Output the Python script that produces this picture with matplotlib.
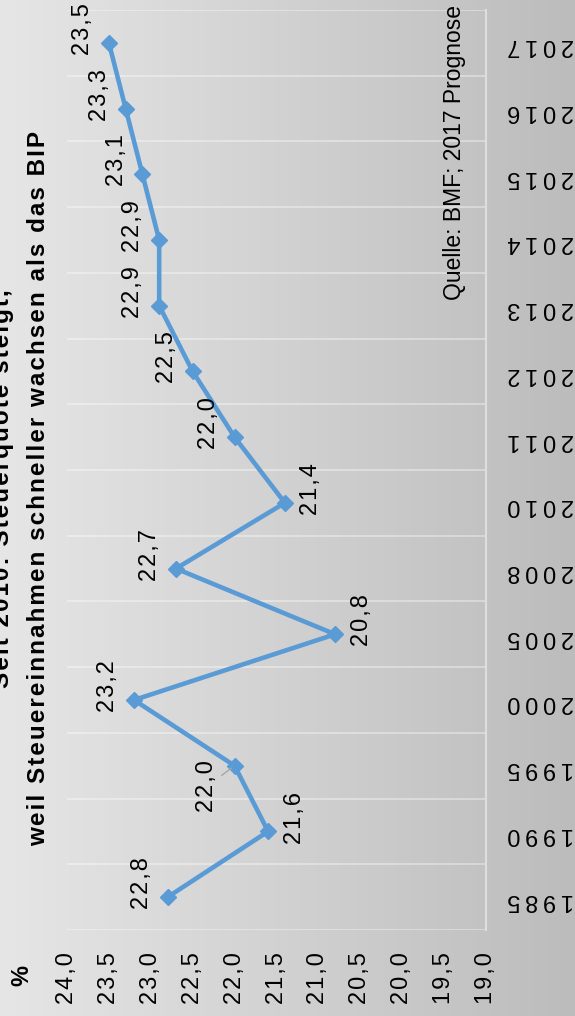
import numpy as np
import matplotlib
matplotlib.use("Agg")
import matplotlib.pyplot as plt

plt.rcParams['font.family'] = ['Liberation Sans', 'DejaVu Sans']

# Steuerquote in % (BMF; 2017 Prognose)
years = ['1985', '1990', '1995', '2000', '2005', '2008', '2010',
         '2011', '2012', '2013', '2014', '2015', '2016', '2017']
quote = [22.8, 21.6, 22.0, 23.2, 20.8, 22.7, 21.4,
         22.0, 22.5, 22.9, 22.9, 23.1, 23.3, 23.5]
# where the data label sits: l = above the line, r = below, m = moved with leader line
label_side = ['l', 'r', 'm', 'l', 'r', 'l', 'r',
              'l', 'l', 'l', 'l', 'l', 'l', 'l']
value_ticks = [24.0, 23.5, 23.0, 22.5, 22.0, 21.5, 21.0, 20.5, 20.0, 19.5, 19.0]

title_1 = 'Seit 2010: Steuerquote steigt,'
title_2 = 'weil Steuereinnahmen schneller wachsen als das BIP'
source = 'Quelle: BMF; 2017 Prognose'

HAIR = '\u200a'
THIN = '\u2009'


def spaced(s, sp=HAIR):
    # the original uses wide letter spacing
    return sp.join(s)


def de(v):
    return f'{v:.1f}'.replace('.', ',')


W, H = 575, 1016
fig = plt.figure(figsize=(W / 100, H / 100), dpi=100)

# grey gradient background
bg = fig.add_axes([0, 0, 1, 1], zorder=-10)
grad = np.linspace(0, 1, 256).reshape(1, -1)
cmap = matplotlib.colors.LinearSegmentedColormap.from_list('bg', ['#e6e6e6', '#bcbcbc'])
bg.imshow(grad, aspect='auto', cmap=cmap, extent=[0, 1, 0, 1])
bg.axis('off')

# chart is drawn turned by 90 degrees
ax = fig.add_axes([67 / W, 86 / H, (486 - 67) / W, 920 / H])
ax.set_facecolor('none')
pos = np.arange(len(years))
ax.plot(quote, pos, color='#5b9bd5', lw=3.3, marker='D', ms=8.5, zorder=3)

ax.set_xlim(24.0, 19.0)
ax.set_ylim(-0.5, len(years) - 0.5)

ax.set_xticks(value_ticks, [spaced(de(v)) for v in value_ticks],
              rotation=90, fontsize=17)
ax.tick_params(axis='x', length=0, pad=16)

ax.yaxis.tick_right()
ax.set_yticks(pos, [spaced(y, THIN) for y in years], rotation=180, fontsize=17)
ax.tick_params(axis='y', length=0, pad=15, which='both')
ax.set_yticks(np.arange(-0.5, len(years)), minor=True)
ax.grid(which='minor', axis='y', color='white', alpha=0.4, lw=1.3)

for s in ['top', 'left', 'bottom']:
    ax.spines[s].set_visible(False)
ax.spines['right'].set_color('#dedede')
ax.spines['right'].set_linewidth(1.5)

for v, p, side in zip(quote, pos, label_side):
    txt = spaced(de(v))
    if side == 'l':
        ax.annotate(txt, (v, p), xytext=(-18.5, 10), textcoords='offset points',
                    rotation=90, ha='center', va='center', fontsize=17)
    elif side == 'r':
        ax.annotate(txt, (v, p), xytext=(19, 10), textcoords='offset points',
                    rotation=90, ha='center', va='center', fontsize=17)
    else:
        ax.annotate(txt, (v, p), xytext=(-20, -15), textcoords='offset points',
                    rotation=90, ha='center', va='center', fontsize=17,
                    arrowprops=dict(arrowstyle='-', color='#a6a6a6', lw=1,
                                    shrinkA=1, shrinkB=3))

fig.text(3 / W, 1 - 489 / H, spaced(title_1), rotation=90, ha='center', va='center',
         fontsize=17.5, fontweight='bold')
fig.text(39 / W, 1 - 488 / H, spaced(title_2), rotation=90, ha='center', va='center',
         fontsize=17.5, fontweight='bold')
fig.text(22 / W, 1 - 975 / H, '%', rotation=90, ha='center', va='center',
         fontsize=17, fontweight='bold')
fig.text(454 / W, 1 - 153 / H, source, rotation=90, ha='center', va='center',
         fontsize=16.5)

fig.savefig('out.png', dpi=100)
